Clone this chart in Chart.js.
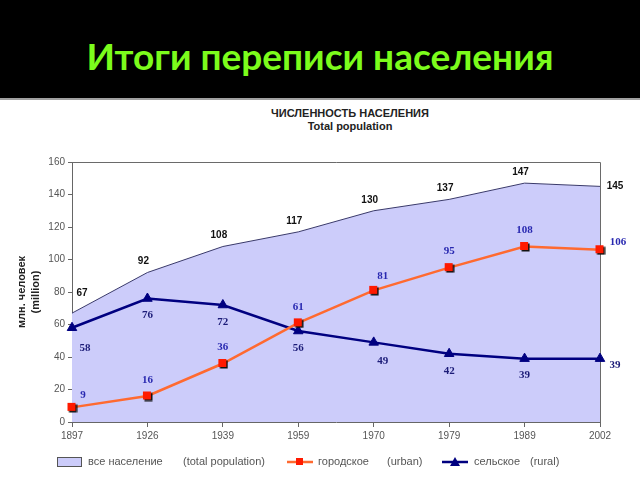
<!DOCTYPE html>
<html><head><meta charset="utf-8">
<script src="https://cdn.jsdelivr.net/npm/chart.js@4"></script>
<style>
html,body{margin:0;padding:0;background:#fff;width:640px;height:480px;overflow:hidden;}
#hdr{position:absolute;left:0;top:0;width:640px;height:98px;background:#000;border-bottom:2px solid #a0a0a0;}
#hdr h1{margin:0;position:absolute;left:0;top:34px;width:640px;text-align:center;font:bold 37px Lato,"Open Sans",sans-serif;color:#7cfc1c;line-height:44px;}
.ct{position:absolute;left:250px;width:200px;text-align:center;font:bold 11px "Liberation Sans",Arial,sans-serif;color:#222;line-height:13px;}
#wrap{position:absolute;left:0;top:100px;width:640px;height:380px;}
</style></head>
<body>
<div id="hdr"><h1>Итоги переписи населения</h1></div>
<div class="ct" style="top:107px">ЧИСЛЕННОСТЬ НАСЕЛЕНИЯ</div>
<div class="ct" style="top:120px">Total population</div>
<div id="wrap"><canvas id="c" width="640" height="380"></canvas></div>
<script>
const years = ['1897','1926','1939','1959','1970','1979','1989','2002'];
const totalPop = [67, 92, 108, 117, 130, 137, 147, 145];
const urbanPop = [9, 16, 36, 61, 81, 95, 108, 106];
const ruralPop = [58, 76, 72, 56, 49, 42, 39, 39];
const yTicks = [0, 20, 40, 60, 80, 100, 120, 140, 160];

const SANS = '"Liberation Sans", Arial, sans-serif';
const SERIF = '"Liberation Serif", "Times New Roman", serif';

// square marker with shadow
const sq = document.createElement('canvas');
sq.width = 11; sq.height = 11;
(function(){const g = sq.getContext('2d');g.fillStyle='#111';g.fillRect(2.5,2.5,8,8);g.fillStyle='#ff1a00';g.fillRect(1,1,8,8);})();

const labelCfg = {
  0: {color:'#111', font:'bold 10px '+SANS, off:(i,n)=> i===0?[10,-20]:(i===n-1?[15,0]:[-4,-11])},
  1: {color:'#2828b0', font:'bold 11px '+SERIF, off:(i,n)=> i===0?[11,-12]:(i===4?[9,-14]:(i===n-1?[18,-8]:[0,-16]))},
  2: {color:'#1c1c78', font:'bold 11px '+SERIF, off:(i,n)=> i===0?[13,20]:(i===4?[9,19]:(i===n-1?[15,7]:[0,17]))}
};

const plug = {
  id:'extras',
  beforeDatasetsDraw(chart){
    const a = chart.chartArea, ctx = chart.ctx;
    ctx.save();
    ctx.strokeStyle = '#6a6a6a'; ctx.lineWidth = 1;
    ctx.beginPath();
    ctx.moveTo(a.left, a.top+0.5); ctx.lineTo(a.right+0.5, a.top+0.5); ctx.lineTo(a.right+0.5, a.bottom);
    ctx.stroke();
    ctx.restore();
  },
  afterDatasetsDraw(chart){
    const ctx = chart.ctx;
    ctx.save();
    ctx.textAlign='center'; ctx.textBaseline='middle';
    chart.data.datasets.forEach((ds, di)=>{
      const cfg = labelCfg[ds.lblIdx];
      const meta = chart.getDatasetMeta(di);
      ctx.fillStyle = cfg.color; ctx.font = cfg.font;
      meta.data.forEach((pt, i)=>{
        const o = cfg.off(i, meta.data.length);
        ctx.fillText(String(ds.data[i]), pt.x + o[0], pt.y + o[1]);
      });
    });
    // legend
    const y = 362;
    ctx.textAlign='left';
    ctx.font = '11px '+SANS;
    ctx.fillStyle='#ccccfa'; ctx.fillRect(57.5, y-4.5, 24, 9);
    ctx.strokeStyle='#555'; ctx.lineWidth=1; ctx.strokeRect(57.5, y-4.5, 24, 9);
    ctx.fillStyle='#555';
    ctx.fillText('все население', 88, y);
    ctx.fillText('(total population)', 183, y);
    ctx.strokeStyle='#ff6a30'; ctx.lineWidth=2.5;
    ctx.beginPath(); ctx.moveTo(287, y); ctx.lineTo(313, y); ctx.stroke();
    ctx.fillStyle='#ff1a00'; ctx.fillRect(296, y-4, 7, 7);
    ctx.fillStyle='#555';
    ctx.fillText('городское', 318, y);
    ctx.fillText('(urban)', 387, y);
    ctx.strokeStyle='#000080'; ctx.lineWidth=2.5;
    ctx.beginPath(); ctx.moveTo(442, y); ctx.lineTo(468, y); ctx.stroke();
    ctx.fillStyle='#000080';
    ctx.beginPath(); ctx.moveTo(455, y-5); ctx.lineTo(460, y+4); ctx.lineTo(450, y+4); ctx.closePath(); ctx.fill();
    ctx.fillStyle='#555';
    ctx.fillText('сельское', 474, y);
    ctx.fillText('(rural)', 530, y);
    ctx.restore();
  }
};

new Chart(document.getElementById('c'), {
  type:'line',
  data:{
    labels: years,
    datasets:[
      {label:'городское (urban)', lblIdx:1, data:urbanPop, order:0, borderColor:'#ff6a30', borderWidth:2.5,
       pointStyle:sq, pointRadius:5, tension:0, fill:false},
      {label:'сельское (rural)', lblIdx:2, data:ruralPop, order:1, borderColor:'#000080', borderWidth:2.5,
       backgroundColor:'#000080', pointStyle:'triangle', pointRadius:5.5, pointBorderWidth:1, pointBorderColor:'#000080', tension:0, fill:false},
      {label:'все население (total population)', lblIdx:0, data:totalPop, order:2, borderColor:'#3a3a6a', borderWidth:1,
       backgroundColor:'#ccccfa', pointRadius:0, fill:'origin', tension:0}
    ]
  },
  options:{
    responsive:false, animation:false,
    layout:{padding:{top:62,right:40,bottom:32,left:0}},
    plugins:{legend:{display:false}, title:{display:false}, tooltip:{enabled:false}},
    scales:{
      x:{type:'category', offset:false,
         grid:{display:true, drawOnChartArea:false, drawTicks:true, tickLength:5, color:'#666'},
         border:{display:true, color:'#666'},
         ticks:{font:{size:10, family:SANS}, color:'#555', padding:3, maxRotation:0, autoSkip:false},
         afterFit(s){ s.height = 26; }},
      y:{min:0, max:160,
         afterBuildTicks(s){ s.ticks = yTicks.map(v=>({value:v})); },
         grid:{display:true, drawOnChartArea:false, drawTicks:true, tickLength:4, color:'#666'},
         border:{display:true, color:'#666'},
         ticks:{font:{size:10, family:SANS}, color:'#555', padding:3},
         title:{display:true, text:['млн. человек','(million)'], font:{size:11, weight:'bold', family:SANS, lineHeight:1.36}, color:'#222', padding:{top:14,bottom:0}},
         afterFit(s){ s.width = 72; }}
    }
  },
  plugins:[plug]
});
</script>
</body></html>
